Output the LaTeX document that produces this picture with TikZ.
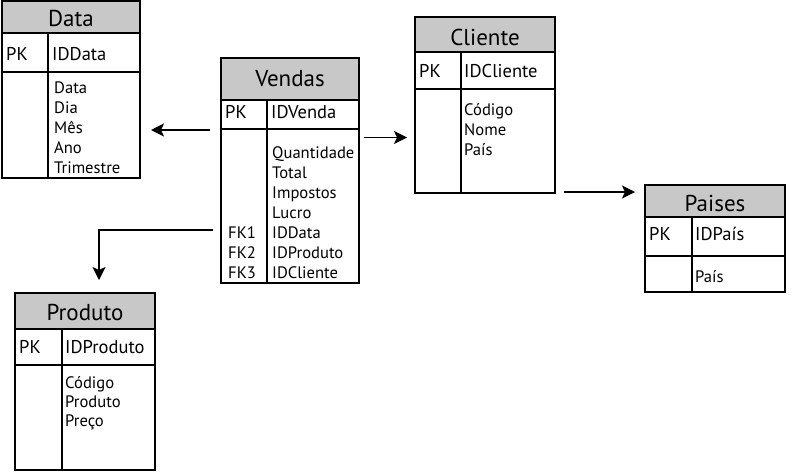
\documentclass[tikz,border=0pt]{standalone}
\usepackage{fontspec}
\setmainfont{PT Sans}
\usetikzlibrary{arrows.meta}
\definecolor{hdrgray}{HTML}{C8C8C8}
\tikzset{
  hdr/.style={fill=hdrgray},
  outerbox/.style={draw=black, line width=1.8pt},
  innerline/.style={draw=black, line width=1.5pt},
  ttl/.style={font=\fontsize{23}{25}\selectfont, anchor=base, inner sep=0pt},
  pkt/.style={font=\fontsize{18.5}{20}\selectfont, anchor=base west, inner sep=0pt},
  itm/.style={font=\fontsize{16.6}{18}\selectfont, anchor=base west, inner sep=0pt},
  conn/.style={line width=1.5pt, -{Stealth[length=13pt,width=13pt,inset=3pt]}}
}
% #1 x1, #2 y1, #3 x2, #4 y2, #5 header bottom, #6 pk row bottom, #7 divider x
\newcommand\erdgrid[7]{%
  \fill[hdr] (#1,#2) rectangle (#3,#5);
  \draw[innerline] (#1,#5) -- (#3,#5) (#1,#6) -- (#3,#6) (#7,#5) -- (#7,#4);
  \draw[outerbox] (#1,#2) rectangle (#3,#4);
}
\begin{document}
\begin{tikzpicture}[x=1pt,y=-1pt]
\useasboundingbox (0,0) rectangle (800,472);

% Data
\erdgrid{2}{1}{140}{178}{33}{72}{48}
\node[ttl] (data-title) at (71,26) {Data};
\node[pkt] (data-pk) at (6,60) {PK};
\node[pkt] (data-id) at (52,60) {IDData};
\foreach \t [count=\i] in {Data,Dia,Mês,Ano,Trimestre}
  \node[itm] (data-\i) at (54,{73+20*\i}) {\t};

% Vendas
\erdgrid{221}{58}{359}{283}{100}{129}{267}
\node[ttl] (vendas-title) at (290,86) {Vendas};
\node[pkt] (vendas-pk) at (225,118) {PK};
\node[pkt] (vendas-id) at (271,118) {IDVenda};
\foreach \t [count=\i] in {Quantidade,Total,Impostos,Lucro,IDData,IDProduto,IDCliente}
  \node[itm] (vendas-\i) at (272,{138+20*\i}) {\t};
\node[itm] (fk1) at (228,238) {FK1};
\node[itm] (fk2) at (228,258) {FK2};
\node[itm] (fk3) at (228,278) {FK3};

% Cliente
\erdgrid{415}{17}{555}{193}{52}{89}{461}
\node[ttl] (cliente-title) at (485,45) {Cliente};
\node[pkt] (cliente-pk) at (419,77) {PK};
\node[pkt] (cliente-id) at (464,77) {IDCliente};
\foreach \t [count=\i] in {Código,Nome,País}
  \node[itm] (cliente-\i) at (464,{95+20*\i}) {\t};

% Paises
\erdgrid{645}{185}{785}{292}{217}{256}{692}
\node[ttl] (paises-title) at (715,211) {Paises};
\node[pkt] (paises-pk) at (649,240) {PK};
\node[pkt] (paises-id) at (695,240) {IDPaís};
\node[itm] (paises-1) at (695,282) {País};

% Produto
\erdgrid{15}{293}{155}{470}{329}{365}{62}
\node[ttl] (produto-title) at (85,320) {Produto};
\node[pkt] (produto-pk) at (19,353) {PK};
\node[pkt] (produto-id) at (65,353) {IDProduto};
\foreach \t [count=\i] in {Código,Produto,Preço}
  \node[itm] (produto-\i) at (65,{369+19*\i}) {\t};

% connectors
\coordinate (a1s) at (210,130);
\coordinate (a1e) at (151,130);
\coordinate (a2s) at (213,230);
\coordinate (a2c) at (99,230);
\coordinate (a2e) at (99,280);
\coordinate (a3s) at (364,137.5);
\coordinate (a3e) at (407,137.5);
\coordinate (a4s) at (564,192);
\coordinate (a4e) at (635,192);
\draw[conn] (a1s) -- (a1e);
\draw[conn] (a2s) -- (a2c) -- (a2e);
\draw[conn] (a3s) -- (a3e);
\draw[conn] (a4s) -- (a4e);
\end{tikzpicture}
\end{document}
